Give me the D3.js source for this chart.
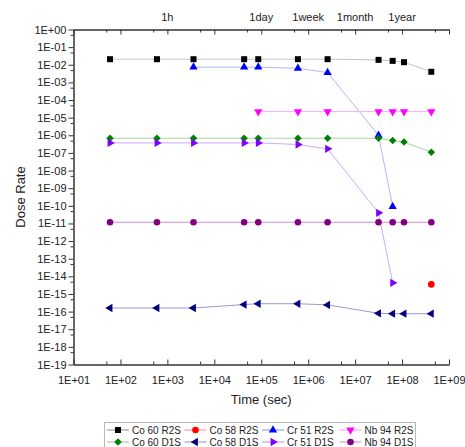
<!DOCTYPE html>
<html>
<head>
<meta charset="utf-8">
<script src="https://cdn.jsdelivr.net/npm/d3@7"></script>
<style>
  body { margin: 0; background: #fff; }
  text { font-family: "Liberation Sans", Arial, sans-serif; fill: #222; }
</style>
</head>
<body>
<script>
// time points (sec)
const tAll = [60, 600, 3600, 43200, 86400, 604800, 2592000, 31536000, 63072000, 1.1e8, 4.2e8];

const co60R2S = [2.07e-2, 2.07e-2, 2.07e-2, 2.07e-2, 2.07e-2, 2.07e-2, 2.07e-2, 1.9e-2, 1.66e-2, 1.4e-2, 4e-3];
const co60D1S = [6.8e-7, 6.8e-7, 6.8e-7, 6.8e-7, 6.8e-7, 6.8e-7, 6.8e-7, 6.8e-7, 5e-7, 4.1e-7, 1.1e-7];
const co58R2S = [3.5e-15];
const co58R2S_t = [4.2e8];
const co58D1S = [1.6e-16, 1.6e-16, 1.6e-16, 2.5e-16, 2.8e-16, 2.8e-16, 2.4e-16, 8e-17, 7.6e-17, 7.6e-17, 7.6e-17];
const cr51R2S_t = [3600, 43200, 86400, 604800, 2592000, 31536000, 63072000];
const cr51R2S = [7.3e-3, 7.3e-3, 7.3e-3, 6.3e-3, 3.6e-3, 1e-6, 9e-11];
const cr51D1S_t = [60, 600, 3600, 43200, 86400, 604800, 2592000, 31536000, 63072000];
const cr51D1S = [3.7e-7, 3.7e-7, 3.7e-7, 3.7e-7, 3.7e-7, 3.0e-7, 1.7e-7, 4e-11, 4.3e-15];
const nb94R2S_t = [86400, 604800, 2592000, 31536000, 63072000, 1.1e8, 4.2e8];
const nb94R2S = [2.2e-5, 2.2e-5, 2.2e-5, 2.2e-5, 2.2e-5, 2.2e-5, 2.2e-5];
const nb94D1S = [1.17e-11, 1.17e-11, 1.17e-11, 1.17e-11, 1.17e-11, 1.17e-11, 1.17e-11, 1.17e-11, 1.17e-11, 1.17e-11, 1.17e-11];

const xTicks = [1e1, 1e2, 1e3, 1e4, 1e5, 1e6, 1e7, 1e8, 1e9];
const yExps = d3.range(0, -20, -1);
const topLabels = [[1e3, "1h"], [1e5, "1day"], [1e6, "1week"], [1e7, "1month"], [1e8, "1year"]];

// legend order is column-major
const series = [
  { name: "Co 60 R2S", t: tAll, v: co60R2S, color: "#000000", line: "#c4c4c4", shape: "square" },
  { name: "Co 60 D1S", t: tAll, v: co60D1S, color: "#008000", line: "#a8d4a8", shape: "diamond" },
  { name: "Co 58 R2S", t: co58R2S_t, v: co58R2S, color: "#ff0000", line: "#ffa0a0", shape: "circle" },
  { name: "Co 58 D1S", t: tAll, v: co58D1S, color: "#000080", line: "#9a9ad0", shape: "left" },
  { name: "Cr 51 R2S", t: cr51R2S_t, v: cr51R2S, color: "#0000ff", line: "#b4b4ff", shape: "up" },
  { name: "Cr 51 D1S", t: cr51D1S_t, v: cr51D1S, color: "#8000ff", line: "#cfa8ff", shape: "right" },
  { name: "Nb 94 R2S", t: nb94R2S_t, v: nb94R2S, color: "#ff00ff", line: "#ffa8ff", shape: "down" },
  { name: "Nb 94 D1S", t: tAll, v: nb94D1S, color: "#800080", line: "#cc90cc", shape: "circle" }
];
const drawOrder = [0, 3, 4, 1, 2, 5, 6, 7];

const W = 465, H = 447;
const svg = d3.select("body").append("svg").attr("width", W).attr("height", H);

const x = d3.scaleLog().domain([1e1, 1e9]).range([73.5, 449]);
const y = d3.scaleLog().domain([1e-19, 1]).range([364.5, 29.5]);

const fmt = (v) => {
  const e = Math.round(Math.log10(v));
  return "1E" + (e < 0 ? "-" : "+") + String(Math.abs(e)).padStart(2, "0");
};
const minorX = xTicks.slice(0, -1).map((d) => d * 5);
const yTicks = yExps.map((e) => Math.pow(10, e));
const minorY = yTicks.slice(1).map((d) => d * 5);

function styleAxis(g) {
  g.selectAll("path, line").attr("stroke", "#333").attr("stroke-width", 1);
  g.selectAll("text").attr("font-size", 11).attr("fill", "#222")
    .attr("font-family", "'Liberation Sans', Arial, sans-serif");
}

// bottom axis, ticks inward
svg.append("g").attr("transform", `translate(0,${y(1e-19)})`)
  .call(d3.axisBottom(x).tickValues(minorX).tickFormat("").tickSize(-3).tickSizeOuter(0))
  .call(styleAxis);
svg.append("g").attr("transform", `translate(0,${y(1e-19)})`)
  .call(d3.axisBottom(x).tickValues(xTicks).tickFormat(fmt).tickSize(-5).tickSizeOuter(0).tickPadding(12))
  .call(styleAxis);

// top axis, ticks inward, labels only for time marks
svg.append("g").attr("transform", `translate(0,${y(1)})`)
  .call(d3.axisTop(x).tickValues(minorX).tickFormat("").tickSize(-3).tickSizeOuter(0))
  .call(styleAxis);
svg.append("g").attr("transform", `translate(0,${y(1)})`)
  .call(d3.axisTop(x).tickValues(xTicks).tickFormat("").tickSize(-5).tickSizeOuter(0))
  .call(styleAxis);
svg.append("g").selectAll("text").data(topLabels).join("text")
  .attr("x", (d) => x(d[0])).attr("y", 21)
  .attr("text-anchor", "middle").attr("font-size", 11)
  .text((d) => d[1]);

// left axis, ticks outward
svg.append("g").attr("transform", `translate(${x(1e1)},0)`)
  .call(d3.axisLeft(y).tickValues(minorY).tickFormat("").tickSize(3).tickSizeOuter(0))
  .call(styleAxis);
svg.append("g").attr("transform", `translate(${x(1e1)},0)`)
  .call(d3.axisLeft(y).tickValues(yTicks).tickFormat(fmt).tickSize(5).tickSizeOuter(0).tickPadding(2))
  .call(styleAxis);

// axis titles
svg.append("text").attr("x", (x.range()[0] + x.range()[1]) / 2).attr("y", 404)
  .attr("text-anchor", "middle").attr("font-size", 13).text("Time (sec)");
svg.append("text")
  .attr("transform", `translate(25,${(y.range()[0] + y.range()[1]) / 2}) rotate(-90)`)
  .attr("text-anchor", "middle").attr("font-size", 13).text("Dose Rate");

// marker shapes, drawn at the origin of g
function marker(g, shape, color) {
  let sym, size, rot = 0;
  if (shape === "square") { sym = d3.symbolSquare; size = 36; }
  else if (shape === "diamond") { sym = d3.symbolSquare; size = 28; rot = 45; }
  else if (shape === "circle") { sym = d3.symbolCircle; size = 34; }
  else { sym = d3.symbolTriangle; size = 30;
    rot = { up: 0, down: 180, left: -90, right: 90 }[shape]; }
  g.append("path").attr("d", d3.symbol(sym, size)())
    .attr("transform", `rotate(${rot})`)
    .attr("fill", color);
}

const line = d3.line().x((d) => x(d[0])).y((d) => y(d[1]));

drawOrder.forEach((i) => {
  const s = series[i];
  const pts = s.t.map((t, k) => [t, s.v[k]]);
  const g = svg.append("g");
  g.append("path").datum(pts).attr("d", line)
    .attr("fill", "none").attr("stroke", s.line).attr("stroke-width", 1);
  pts.forEach((p) => {
    const m = g.append("g").attr("transform", `translate(${x(p[0])},${y(p[1])})`);
    marker(m, s.shape, s.color);
  });
});

// legend (bottom edge cut by the frame, as in the source)
const lg = svg.append("g");
lg.append("rect").attr("x", 104.5).attr("y", 422.5).attr("width", 311).attr("height", 30)
  .attr("fill", "#fff").attr("stroke", "#b8b8b8");
series.forEach((s, i) => {
  const col = Math.floor(i / 2), row = i % 2;
  const lx = 107 + col * 77.5, ly = 430 + row * 12;
  lg.append("line").attr("x1", lx).attr("x2", lx + 22).attr("y1", ly).attr("y2", ly)
    .attr("stroke", s.color).attr("stroke-opacity", 0.45).attr("stroke-width", 1);
  const m = lg.append("g").attr("transform", `translate(${lx + 11},${ly})`);
  marker(m, s.shape, s.color);
  lg.append("text").attr("x", lx + 25).attr("y", ly + 3.5).attr("font-size", 10).text(s.name);
});
</script>
</body>
</html>
